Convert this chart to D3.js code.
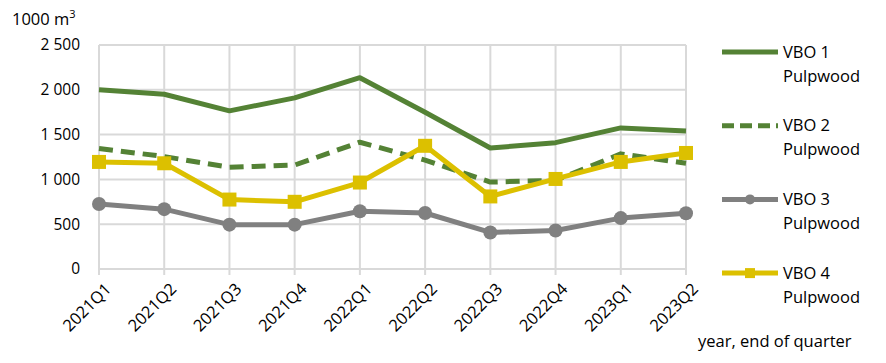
<!DOCTYPE html>
<html lang="en">
<head>
<meta charset="UTF-8">
<title>VBO Pulpwood</title>
<script src="https://d3js.org/d3.v7.min.js"></script>
<style>
  body { margin: 0; background: #fff; }
  text { font-family: "Open Sans", "Liberation Sans", sans-serif; fill: #000; }
</style>
</head>
<body>
<div id="chart"></div>
<script>
  // data
  const quarters = ["2021Q1","2021Q2","2021Q3","2021Q4","2022Q1","2022Q2","2022Q3","2022Q4","2023Q1","2023Q2"];
  const vbo1 = [2000, 1950, 1765, 1910, 2135, 1750, 1350, 1410, 1575, 1540];
  const vbo2 = [1345, 1255, 1135, 1160, 1415, 1215, 970, 990, 1285, 1180];
  const vbo3 = [725, 668, 495, 495, 645, 625, 408, 430, 568, 622];
  const vbo4 = [1195, 1180, 775, 750, 965, 1375, 810, 1005, 1195, 1295];
  const yTicks = [0, 500, 1000, 1500, 2000, 2500];
  const seriesNames = ["VBO 1", "VBO 2", "VBO 3", "VBO 4"];

  const W = 886, H = 363;

  const svg = d3.select("#chart").append("svg")
    .attr("width", W).attr("height", H);

  const x = d3.scalePoint().domain(quarters).range([99, 686]);
  const y = d3.scaleLinear().domain([0, 2500]).range([269, 45]);

  // horizontal gridlines
  svg.append("g")
    .selectAll("line").data(yTicks).join("line")
      .attr("x1", 99).attr("x2", 686)
      .attr("y1", d => y(d)).attr("y2", d => y(d))
      .attr("stroke", "#d9d9d9").attr("stroke-width", 2);

  // vertical gridlines incl. tick marks below the axis
  svg.append("g")
    .selectAll("line").data(quarters).join("line")
      .attr("x1", d => x(d)).attr("x2", d => x(d))
      .attr("y1", 45).attr("y2", 275)
      .attr("stroke", "#d9d9d9").attr("stroke-width", 2);

  // y tick labels
  const fmt = d => d3.format(",")(d).replace(/,/g, " ");
  svg.append("g")
    .selectAll("text").data(yTicks).join("text")
      .attr("x", 80).attr("y", d => y(d))
      .attr("dy", "0.35em")
      .attr("text-anchor", "end")
      .style("font-size", "15.5px")
      .text(fmt);

  // x tick labels rotated
  svg.append("g")
    .selectAll("text").data(quarters).join("text")
      .attr("transform", d => `translate(${x(d) + 5},${282}) rotate(-45)`)
      .attr("text-anchor", "end")
      .attr("dy", "0.7em")
      .style("font-size", "16.5px")
      .text(d => d);

  // unit label
  const unit = svg.append("text").attr("x", 12).attr("y", 25).style("font-size", "16.5px");
  unit.append("tspan").text("1000 m");
  unit.append("tspan").attr("dy", -7).style("font-size", "11px").text("3");

  svg.append("text")
    .attr("x", 698).attr("y", 347)
    .style("font-size", "16.5px")
    .text("year, end of quarter");

  const series = [
    { name: seriesNames[0], values: vbo1, color: "#548235", dash: null, marker: null },
    { name: seriesNames[1], values: vbo2, color: "#548235", dash: "14,8", marker: null },
    { name: seriesNames[2], values: vbo3, color: "#808080", dash: null, marker: "circle" },
    { name: seriesNames[3], values: vbo4, color: "#dcc000", dash: null, marker: "square" }
  ];

  const line = d3.line()
    .x((d, i) => x(quarters[i]))
    .y(d => y(d));

  series.forEach(s => {
    svg.append("path")
      .datum(s.values)
      .attr("fill", "none")
      .attr("stroke", s.color)
      .attr("stroke-width", 5)
      .attr("stroke-linejoin", "round")
      .attr("stroke-dasharray", s.dash)
      .attr("d", line);

    if (s.marker === "circle") {
      svg.append("g").selectAll("circle").data(s.values).join("circle")
        .attr("cx", (d, i) => x(quarters[i]))
        .attr("cy", d => y(d))
        .attr("r", 7)
        .attr("fill", s.color);
    } else if (s.marker === "square") {
      svg.append("g").selectAll("rect").data(s.values).join("rect")
        .attr("x", (d, i) => x(quarters[i]) - 7)
        .attr("y", d => y(d) - 7)
        .attr("width", 14).attr("height", 14)
        .attr("fill", s.color);
    }
  });

  // legend
  const legend = svg.append("g");
  series.forEach((s, i) => {
    const ly = 52 + i * 73.7;
    const g = legend.append("g").attr("transform", `translate(0,${ly})`);
    g.append("line")
      .attr("x1", 722).attr("x2", 778)
      .attr("stroke", s.color).attr("stroke-width", 5)
      .attr("stroke-dasharray", s.dash ? "12,6" : null);
    if (s.marker === "circle") {
      g.append("circle").attr("cx", 750).attr("r", 5).attr("fill", s.color);
    } else if (s.marker === "square") {
      g.append("rect").attr("x", 745).attr("y", -5).attr("width", 10).attr("height", 10).attr("fill", s.color);
    }
    g.append("text").attr("x", 783).attr("dy", "0.35em").style("font-size", "16.5px").text(s.name);
    g.append("text").attr("x", 783).attr("y", 24).attr("dy", "0.35em").style("font-size", "16.5px").text("Pulpwood");
  });
</script>
</body>
</html>
